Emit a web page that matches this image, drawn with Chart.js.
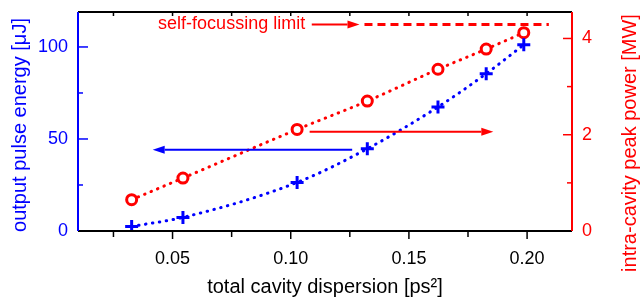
<!DOCTYPE html>
<html lang="en">
<head>
  <meta charset="UTF-8" />
  <title>Pulse energy and peak power vs cavity dispersion</title>
  <script src="https://cdn.jsdelivr.net/npm/chart.js"></script>
  <style>
    html, body { margin: 0; padding: 0; background: #fff; }
  </style>
</head>
<body>
  <canvas id="chart" width="642" height="305"></canvas>

  <script>
    // data
    const dispersion = [0.0327, 0.0544, 0.1027, 0.1324, 0.1623, 0.1827, 0.1986];
    const pulseEnergy = [2.5, 7.4, 26.4, 44.7, 67.4, 85.5, 101.2];
    const peakPower = [0.65, 1.10, 2.11, 2.70, 3.36, 3.78, 4.12];

    const xTicks = [0.05, 0.10, 0.15, 0.20];
    const xMinorTicks = [0.025, 0.075, 0.125, 0.175];
    const energyTicks = [0, 50, 100];
    const energyMinorTicks = [25, 75];
    const powerTicks = [0, 2, 4];
    const powerMinorTicks = [1, 3];

    const limitPower = 4.29;
    const limitRange = [0.1312, 0.2092];
    const limitLabel = 'self-focussing limit';

    const BLUE = '#0000ff';
    const RED = '#ff0000';
    const FONT = "'Liberation Sans', Arial, sans-serif";
    Chart.defaults.font.family = FONT;

    // annotation arrows (data units)
    const energyArrow = { from: 0.126, to: 0.0416, value: 44.2 };
    const powerArrow = { from: 0.108, to: 0.1857, value: 2.06 };
    const limitArrow = { from: 0.1089, to: 0.1291, labelAt: 0.1061 };

    function arrow(ctx, x0, x1, py, color) {
      const dir = x1 > x0 ? 1 : -1;
      const head = 12;
      ctx.strokeStyle = color;
      ctx.fillStyle = color;
      ctx.lineWidth = 2;
      ctx.beginPath();
      ctx.moveTo(x0, py);
      ctx.lineTo(x1 - dir * head, py);
      ctx.stroke();
      ctx.beginPath();
      ctx.moveTo(x1, py);
      ctx.lineTo(x1 - dir * head, py - 4);
      ctx.lineTo(x1 - dir * head, py + 4);
      ctx.closePath();
      ctx.fill();
    }

    function tickLine(ctx, x0, y0, x1, y1, color) {
      ctx.strokeStyle = color;
      ctx.lineWidth = 1.5;
      ctx.beginPath();
      ctx.moveTo(x0, y0);
      ctx.lineTo(x1, y1);
      ctx.stroke();
    }

    // no label overhang padding, the plot box is pinned by layout + afterFit
    function noPad(s) {
      s.paddingTop = 0;
      s.paddingBottom = 0;
      s.paddingLeft = 0;
      s.paddingRight = 0;
    }

    const decorations = {
      id: 'decorations',
      afterDatasetsDraw(chart) {
        const { ctx, chartArea: a, scales: { x, y, y1 } } = chart;
        ctx.save();

        arrow(ctx, x.getPixelForValue(energyArrow.from), x.getPixelForValue(energyArrow.to),
          y.getPixelForValue(energyArrow.value), BLUE);
        arrow(ctx, x.getPixelForValue(powerArrow.from), x.getPixelForValue(powerArrow.to),
          y1.getPixelForValue(powerArrow.value), RED);
        const limitY = y1.getPixelForValue(limitPower);
        arrow(ctx, x.getPixelForValue(limitArrow.from), x.getPixelForValue(limitArrow.to), limitY, RED);

        ctx.fillStyle = RED;
        ctx.font = '18px ' + FONT;
        ctx.textAlign = 'right';
        ctx.textBaseline = 'middle';
        ctx.fillText(limitLabel, x.getPixelForValue(limitArrow.labelAt), limitY);

        // ticks
        xTicks.concat(xMinorTicks).forEach(v => {
          const px = x.getPixelForValue(v);
          const len = xTicks.includes(v) ? 8 : 6;
          tickLine(ctx, px, a.bottom, px, a.bottom + len, '#000');
          tickLine(ctx, px, a.top, px, a.top + 4, '#000');
        });
        energyTicks.concat(energyMinorTicks).forEach(v => {
          const py = y.getPixelForValue(v);
          tickLine(ctx, a.left, py, a.left + (energyTicks.includes(v) ? 10 : 5), py, BLUE);
        });
        powerTicks.concat(powerMinorTicks).forEach(v => {
          const py = y1.getPixelForValue(v);
          tickLine(ctx, a.right, py, a.right - (powerTicks.includes(v) ? 9 : 5), py, RED);
        });

        // frame
        ctx.lineWidth = 2;
        ctx.strokeStyle = '#000';
        ctx.beginPath();
        ctx.moveTo(a.left, a.top); ctx.lineTo(a.right, a.top);
        ctx.moveTo(a.left, a.bottom); ctx.lineTo(a.right, a.bottom);
        ctx.stroke();
        ctx.strokeStyle = BLUE;
        ctx.beginPath();
        ctx.moveTo(a.left, a.top); ctx.lineTo(a.left, a.bottom);
        ctx.stroke();
        ctx.strokeStyle = RED;
        ctx.beginPath();
        ctx.moveTo(a.right, a.top); ctx.lineTo(a.right, a.bottom);
        ctx.stroke();

        // vertical axis titles, both read bottom to top
        ctx.font = '20px ' + FONT;
        ctx.textAlign = 'center';
        ctx.fillStyle = BLUE;
        ctx.translate(20, 125);
        ctx.rotate(-Math.PI / 2);
        ctx.fillText('output pulse energy [\u03bcJ]', 0, 0);
        ctx.setTransform(1, 0, 0, 1, 0, 0);
        ctx.fillStyle = RED;
        ctx.translate(630, 143);
        ctx.rotate(-Math.PI / 2);
        ctx.fillText('intra-cavity peak power [MW]', 0, 0);

        ctx.restore();
      }
    };

    const ctx = document.getElementById('chart').getContext('2d');
    const chart = new Chart(ctx, {
      type: 'scatter',
      data: {
        datasets: [
          {
            label: 'output pulse energy',
            data: dispersion.map((d, i) => ({ x: d, y: pulseEnergy[i] })),
            yAxisID: 'y',
            showLine: true,
            cubicInterpolationMode: 'monotone',
            borderColor: BLUE,
            borderWidth: 3,
            borderDash: [0.5, 6.5],
            borderCapStyle: 'round',
            pointStyle: 'cross',
            pointRadius: 6.5,
            pointBorderWidth: 3,
            pointBorderColor: BLUE,
          },
          {
            label: 'intra-cavity peak power',
            data: dispersion.map((d, i) => ({ x: d, y: peakPower[i] })),
            yAxisID: 'y1',
            showLine: true,
            cubicInterpolationMode: 'monotone',
            borderColor: RED,
            borderWidth: 3,
            borderDash: [0.5, 6.5],
            borderCapStyle: 'round',
            pointStyle: 'circle',
            pointRadius: 5,
            pointBorderWidth: 3,
            pointBorderColor: RED,
            pointBackgroundColor: '#fff',
          },
          {
            label: 'self-focussing limit',
            data: limitRange.map(d => ({ x: d, y: limitPower })),
            yAxisID: 'y1',
            showLine: true,
            borderColor: RED,
            borderWidth: 3,
            borderDash: [8, 5],
            pointRadius: 0,
          }
        ]
      },
      options: {
        responsive: false,
        animation: false,
        layout: { padding: { top: 12 } },
        plugins: {
          legend: { display: false },
          tooltip: { enabled: false }
        },
        scales: {
          x: {
            type: 'linear',
            min: 0.01,
            max: 0.219,
            afterBuildTicks: s => { s.ticks = xTicks.map(v => ({ value: v })); },
            afterFit: s => { s.height = 74; noPad(s); },
            grid: { display: false, drawTicks: false },
            border: { display: false },
            ticks: {
              color: '#000',
              font: { size: 18 },
              padding: 17,
              callback: v => v.toFixed(2)
            },
            title: {
              display: true,
              text: 'total cavity dispersion [ps\u00b2]',
              color: '#000',
              font: { size: 20 },
              padding: { top: 0, bottom: 6 }
            }
          },
          y: {
            position: 'left',
            min: 0,
            max: 119,
            afterBuildTicks: s => { s.ticks = energyTicks.map(v => ({ value: v })); },
            afterFit: s => { s.width = 78; noPad(s); },
            grid: { display: false, drawTicks: false },
            border: { display: false },
            ticks: { color: BLUE, font: { size: 18 }, padding: 10 }
          },
          y1: {
            position: 'right',
            min: 0,
            max: 4.55,
            afterBuildTicks: s => { s.ticks = powerTicks.map(v => ({ value: v })); },
            afterFit: s => { s.width = 70; noPad(s); },
            grid: { display: false, drawTicks: false },
            border: { display: false },
            ticks: { color: RED, font: { size: 18 }, padding: 10 }
          }
        }
      },
      plugins: [decorations]
    });
  </script>
</body>
</html>
